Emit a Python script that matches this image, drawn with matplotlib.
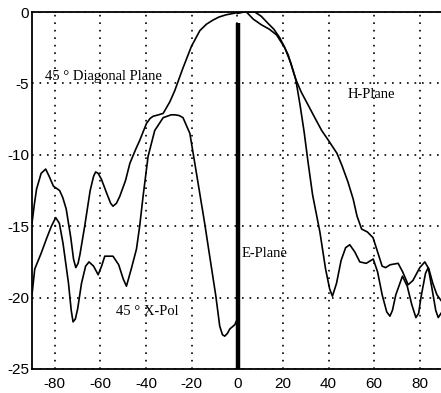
import numpy as np
import matplotlib
matplotlib.use('Agg')
import matplotlib.pyplot as plt

plt.rcParams['axes.unicode_minus'] = False

# 45 deg diagonal plane (angle, dB)
diag_x = [-90, -89, -88, -86, -84, -82.5, -80.6, -77.9, -76.5, -75, -73, -71.8, -70.8, -69.8,
          -69, -66.9, -64.5, -63, -62.1, -61, -59.6, -57, -55.5, -54.5, -53, -51.5, -49,
          -47.1, -44.5, -42.8, -39.8, -38.2, -36.9, -34.5, -32.5, -29.6, -27.4, -24, -20.1,
          -16.4, -13.5, -10.6, -8, -5, -1.8, 1, 4, 7, 10.6, 14, 17.2, 20.8, 23.5, 25.6,
          27.5, 29.3, 31, 33, 36.2, 38.7, 40.5, 41.7, 43.5, 45.5, 47.5, 49.3, 51.5, 53.7,
          56.5, 59.6, 61.5, 63.5, 65.5, 66.9, 68, 69.5, 72.4, 74.5, 76.5, 78.3, 79.5, 80.5,
          82.5, 83.7, 85.5, 87, 88.1, 89.3]
diag_y = [-14.8, -13.5, -12.4, -11.3, -11.0, -11.5, -12.2, -12.5, -13.0, -13.8, -15.8, -17.3,
          -17.9, -17.6, -17.0, -15.0, -12.5, -11.5, -11.2, -11.3, -11.7, -12.8, -13.4, -13.6,
          -13.4, -12.9, -11.8, -10.6, -9.6, -9.0, -7.8, -7.45, -7.3, -7.2, -7.1, -6.3, -5.5,
          -4.0, -2.4, -1.3, -0.85, -0.56, -0.35, -0.2, -0.1, 0, 0, -0.5, -0.9, -1.2, -1.6,
          -2.5, -3.6, -4.7, -6.5, -8.4, -10.5, -12.8, -15.4, -18.0, -19.4, -19.9, -19.0,
          -17.4, -16.5, -16.3, -16.8, -17.5, -17.6, -17.3, -18.2, -19.8, -21.0, -21.3, -20.9,
          -19.8, -18.5, -19.2, -20.5, -21.4, -21.1, -20.0, -18.3, -17.9, -19.5, -20.9, -21.4,
          -21.1]

# H-plane
h_x = [0, 3, 7.7, 10.5, 13.5, 16, 18.6, 20.5, 22.3, 25.6, 28, 31, 34.3, 37, 40, 43.7, 46,
       48.5, 50.8, 52.5, 54.5, 57, 59.5, 61.5, 63.5, 65, 67, 70.5, 72.5, 74.9, 77, 80, 82.2,
       84, 85.7, 87.5, 89.3]
h_y = [-0.1, 0, 0, -0.3, -0.8, -1.2, -1.8, -2.4, -3.0, -4.7, -5.6, -6.5, -7.5, -8.3, -9.0,
       -9.9, -10.8, -11.9, -13.1, -14.3, -15.2, -15.4, -15.8, -16.8, -17.8, -17.9, -17.7,
       -17.6, -18.2, -19.1, -18.8, -17.9, -17.5, -18.0, -19.0, -19.8, -20.2]

# 45 deg cross-pol
xp_x = [-90, -88.8, -86, -83.7, -81.5, -79.6, -78, -76.4, -74, -72.8, -72, -71, -70, -68.3,
        -66.5, -65, -63, -61, -59.5, -58.1, -54.5, -52, -50, -48.6, -46.5, -44.2, -42.8,
        -41.3, -39.1, -36.2, -32.5, -29, -27.4, -25.5, -23.8, -20.8, -17.9, -14.3, -12.1,
        -9.4, -7.7, -6.5, -5.5, -4.3, -3.3, -1.1, 0]
xp_y = [-19.8, -18.0, -16.9, -15.9, -15.0, -14.4, -14.8, -16.2, -19.0, -20.9, -21.7, -21.5,
        -20.8, -19.0, -17.8, -17.5, -17.8, -18.4, -17.8, -17.1, -17.1, -17.7, -18.7, -19.2,
        -18.0, -16.6, -15.0, -12.9, -10.1, -8.3, -7.4, -7.2, -7.2, -7.25, -7.4, -8.5,
        -11.3, -14.8, -17.1, -19.9, -22.0, -22.6, -22.7, -22.5, -22.2, -21.9, -21.5]

# E-plane (thick vertical trace)
e_x = [0.4, 0.4]
e_y = [-0.8, -25]

xticks = [-80, -60, -40, -20, 0, 20, 40, 60, 80]
yticks = [0, -5, -10, -15, -20, -25]

fig = plt.figure(figsize=(4.41, 3.93), dpi=100)
ax = fig.add_axes([32 / 441, 24 / 393, 409 / 441, 357 / 393])

ax.plot(diag_x, diag_y, color='black', lw=1.2)
ax.plot(h_x, h_y, color='black', lw=1.2)
ax.plot(xp_x, xp_y, color='black', lw=1.2)
ax.plot(e_x, e_y, color='black', lw=3.2, solid_capstyle='butt')

ax.set_xlim(-90, 89.3)
ax.set_ylim(-25, 0)
ax.set_xticks(xticks)
ax.set_yticks(yticks)
ax.grid(True, color='black', linestyle=(0, (1, 3.5)), linewidth=1.2)
ax.tick_params(length=0, labelsize=11)
ax.tick_params(axis='x', pad=6)
ax.tick_params(axis='y', pad=2)
for lab in ax.get_xticklabels() + ax.get_yticklabels():
    lab.set_family('Liberation Sans')
ax.spines['right'].set_visible(False)
for s in ['left', 'bottom', 'top']:
    ax.spines[s].set_linewidth(1.3)

tf = dict(family='Liberation Serif', fontsize=10.5, color='black', va='center')
ax.text(-84.4, -4.5, '45 ° Diagonal Plane', **tf)
ax.text(48.5, -5.8, 'H-Plane', **tf)
ax.text(1.8, -16.9, 'E-Plane', **tf)
ax.text(-53, -21.0, '45 ° X-Pol', **tf)

fig.savefig('out.png', dpi=100)
